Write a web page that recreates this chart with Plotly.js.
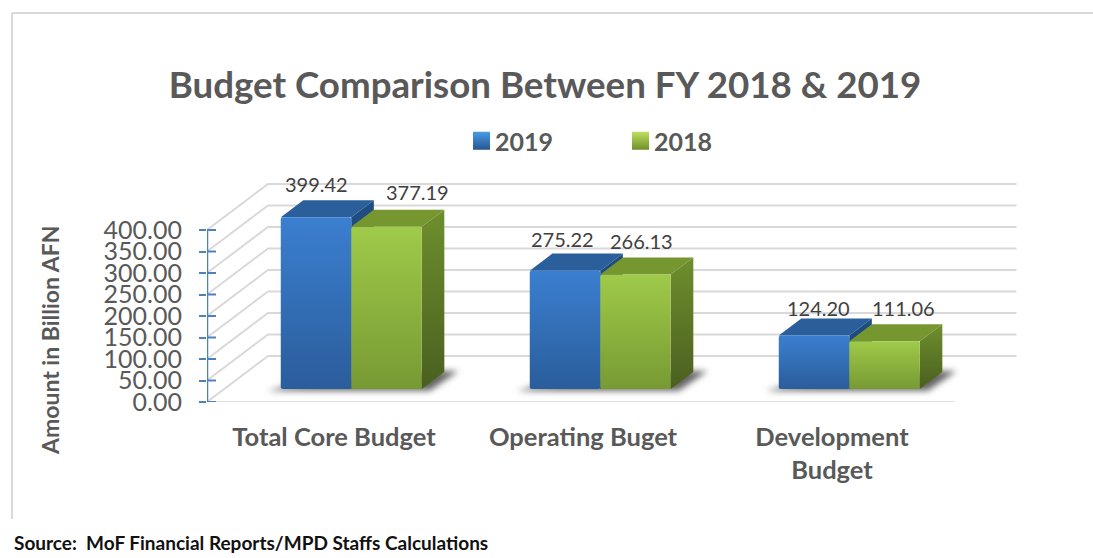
<!DOCTYPE html>
<html><head><meta charset="utf-8">
<script src="https://cdn.plot.ly/plotly-3.0.1.min.js"></script>
<style>html,body{margin:0;padding:0;background:#fff}#c{width:1093px;height:558px}</style>
</head><body><div id="c"></div>
<script>
// ---- data
const categories = ['Total Core Budget','Operating Buget','Development<br>Budget'];
const series2019 = [399.42,275.22,124.20];
const series2018 = [377.19,266.13,111.06];
const seriesNames = ['2019','2018'];
const tickValues = [0,50,100,150,200,250,300,350,400];
const labelShiftX = [[0,31],[-3,6],[4,19]];
const labelShiftY = [[33,35],[32,34],[28,33]];

// ---- geometry of the oblique projection
const W=1093,H=558;
const plot={l:207,r:1017,t:165,b:402};
const pxPerCat=249, pxPerVal=0.43, x0px=334;
const xRange=[(plot.l-x0px)/pxPerCat,(plot.r-x0px)/pxPerCat];
const yRange=[0,(plot.b-plot.t)/pxPerVal];
const wallDX=61/pxPerCat, wallDY=46/pxPerVal;
const frontD=0.283, depthD=0.37, barW=70.5/pxPerCat;
const baseY=frontD*wallDY, frontX=frontD*wallDX;
const floorEnd=(955-x0px)/pxPerCat;
const dx=depthD*wallDX, dy=depthD*wallDY;

const GRID='#d9d9d9', AXIS='#4f81bd';
const traces=[];
const gx=[],gy=[];
tickValues.forEach(v=>{gx.push(xRange[0],xRange[0]+wallDX,xRange[1]-0.002,null);gy.push(v,v+wallDY,v+wallDY,null);});
traces.push({type:'scatter',mode:'lines',x:gx,y:gy,line:{color:GRID,width:2},hoverinfo:'skip',showlegend:false,zorder:0,cliponaxis:false});
traces.push({type:'scatter',mode:'lines',x:[xRange[0],floorEnd],y:[-0.5,-0.5],line:{color:GRID,width:2},hoverinfo:'skip',showlegend:false,zorder:0,cliponaxis:false});
// y axis line and inner half of the ticks
const ix=[],iy=[];
tickValues.forEach(v=>{ix.push(xRange[0],xRange[0]+9/pxPerCat,null);iy.push(v,v,null);});
traces.push({type:'scatter',mode:'lines',x:ix,y:iy,line:{color:AXIS,width:2},hoverinfo:'skip',showlegend:false,zorder:1,cliponaxis:false});
traces.push({type:'scatter',mode:'lines',x:[xRange[0]+0.0001,xRange[0]],y:[tickValues[0],tickValues[tickValues.length-1]],line:{color:AXIS,width:2.5,simplify:false},hoverinfo:'skip',showlegend:false,zorder:1,cliponaxis:false});
categories.forEach((c,i)=>{
  const L=i+frontX-barW, R=i+frontX+barW;
  traces.push({type:'scatter',mode:'lines',fill:'toself',uid:'shadow'+i,
    x:[L-13/pxPerCat,R+8/pxPerCat,R+dx+14/pxPerCat,R+dx-4/pxPerCat,L+4/pxPerCat,L-13/pxPerCat],
    y:[baseY-4,baseY-4,baseY+dy+2,baseY+dy+2,baseY+6,baseY-4],
    line:{width:0},fillcolor:'rgba(50,50,50,0.75)',hoverinfo:'skip',showlegend:false,zorder:1,cliponaxis:false});
});
const styles=[
 {front:'rgb(50,110,190)',top:'#2b5f9c',side:'rgb(31,78,130)',vals:series2019,sign:-1},
 {front:'rgb(140,180,62)',top:'#76962f',side:'rgb(100,130,42)',vals:series2018,sign:1}];
styles.forEach((s,k)=>{
  const z=2+k*2;
  s.vals.forEach((v,i)=>{
    const L=i+frontX+(s.sign<0?-barW:0), R=L+barW, T=baseY+v;
    traces.push({type:'scatter',mode:'lines',fill:'toself',x:[L,L+dx,R+dx,R,L],y:[T,T+dy,T+dy,T,T],
      line:{width:0},fillcolor:s.top,hoverinfo:'skip',showlegend:false,zorder:z});
    traces.push({type:'scatter',mode:'lines',fill:'toself',uid:'side'+k+i,x:[R,R+dx,R+dx,R,R],y:[T,T+dy,baseY+dy,baseY,T],
      line:{width:0},fillcolor:s.side,hoverinfo:'skip',showlegend:false,zorder:z});
  });
  traces.push({type:'bar',name:seriesNames[k],x:s.vals.map((v,i)=>i+frontX+s.sign*barW/2),y:s.vals,base:s.vals.map(()=>baseY),
    width:barW,marker:{color:s.front,line:{width:0},cornerradius:2},hoverinfo:'y',zorder:z+1,cliponaxis:false});
});

const FONT='Lato,"Liberation Sans",Arial,sans-serif';
const annotations=[];
styles.forEach((s,k)=>s.vals.forEach((v,i)=>{
  annotations.push({xref:'x',yref:'y',x:i+frontX+s.sign*barW/2,y:baseY+v,text:v.toFixed(2),showarrow:false,
    xshift:labelShiftX[i][k],yshift:labelShiftY[i][k],xanchor:'center',yanchor:'middle',font:{family:FONT,size:20,color:'#404040'}});
}));
annotations.push({xref:'paper',yref:'paper',x:(50-plot.l)/(plot.r-plot.l),y:(plot.b-340)/(plot.b-plot.t),text:'<b>Amount in Billion AFN</b>',textangle:-90,
  showarrow:false,xanchor:'center',yanchor:'middle',font:{family:FONT,size:23,color:'#595959'}});
annotations.push({xref:'paper',yref:'paper',x:(12-plot.l)/(plot.r-plot.l),y:(plot.b-542)/(plot.b-plot.t),text:'<b>Source:  MoF Financial Reports/MPD Staffs Calculations</b>',
  showarrow:false,xanchor:'left',yanchor:'middle',font:{family:FONT,size:19,color:'#111111'}});

const layout={
  width:W,height:H,autosize:false,paper_bgcolor:'#fff',plot_bgcolor:'rgba(0,0,0,0)',
  margin:{l:plot.l,r:W-plot.r,t:plot.t,b:H-plot.b,pad:0},
  barmode:'overlay',
  title:{text:'<b>Budget Comparison Between FY 2018 &amp; 2019</b>',x:545/W,xanchor:'center',y:1-85/H,yanchor:'middle',font:{family:FONT,size:36.7,color:'#595959'}},
  xaxis:{range:xRange,tickmode:'array',tickvals:categories.map((c,i)=>i),ticktext:categories.map(c=>'<b>'+c+'</b>'),
    showgrid:false,zeroline:false,showline:false,ticks:'',ticklabelstandoff:17,tickfont:{family:FONT,size:25.5,color:'#595959'},tickangle:0},
  yaxis:{range:yRange,tickmode:'array',tickvals:tickValues,ticktext:tickValues.map(v=>v.toFixed(2)),showgrid:false,zeroline:false,showline:false,
    ticks:'outside',ticklen:7,tickwidth:2,tickcolor:AXIS,ticklabelstandoff:12,tickfont:{family:FONT,size:25,color:'#595959'}},
  legend:{orientation:'h',x:(455-plot.l)/(plot.r-plot.l),y:1+(plot.t-141)/(plot.b-plot.t),xanchor:'left',yanchor:'middle',traceorder:'normal',entrywidth:114,entrywidthmode:'pixels',
    font:{family:FONT,size:25,color:'#595959',weight:'bold'},bgcolor:'rgba(0,0,0,0)'},
  annotations:annotations,
  shapes:[
    {type:'line',xref:'paper',yref:'paper',x0:(12-plot.l)/(plot.r-plot.l),x1:(12-plot.l)/(plot.r-plot.l),y0:(plot.b-13)/(plot.b-plot.t),y1:(plot.b-519)/(plot.b-plot.t),line:{color:GRID,width:2}},
    {type:'line',xref:'paper',yref:'paper',x0:(12-plot.l)/(plot.r-plot.l),x1:(W-plot.l)/(plot.r-plot.l),y0:(plot.b-13)/(plot.b-plot.t),y1:(plot.b-13)/(plot.b-plot.t),line:{color:GRID,width:2}}
  ]
};
Plotly.newPlot('c',traces,layout,{displayModeBar:false,staticPlot:true}).then(gd=>{
  const svg=gd.querySelector('svg.main-svg');
  const defs=svg.querySelector('defs')||svg.insertBefore(document.createElementNS('http://www.w3.org/2000/svg','defs'),svg.firstChild);
  const grad=(id,a,b)=>{const g=document.createElementNS('http://www.w3.org/2000/svg','linearGradient');g.id=id;g.setAttribute('x1','0');g.setAttribute('y1','0');g.setAttribute('x2','0');g.setAttribute('y2','1');
    [[0,a],[1,b]].forEach(([o,c])=>{const s=document.createElementNS('http://www.w3.org/2000/svg','stop');s.setAttribute('offset',o);s.setAttribute('stop-color',c);g.appendChild(s);});defs.appendChild(g);};
  grad('fb','#3b7fd0','#2a5d9b');grad('fg','#9fca49','#779a33');grad('sb','#1f4e82','#1a3f6c');grad('sg','#6e8f2d','#4a5f20');
  grad('lb','#4a9be8','#27568f');grad('lg','#c0e060','#6f8f2c');
  gd.querySelectorAll('.point path').forEach(p=>{if(p.closest('.legend'))return;const f=p.style.fill;p.style.fill=f.includes('50, 110')?'url(#fb)':'url(#fg)';});
  [0,1].forEach(k=>[0,1,2].forEach(i=>{const t=gd.querySelector('.traceside'+k+i+' .js-fill');if(t)t.style.fill=k?'url(#sg)':'url(#sb)';}));
  [0,1,2].forEach(i=>{const t=gd.querySelector('.traceshadow'+i+' .js-fill');if(t)t.style.filter='blur(3px)';});
  gd.querySelectorAll('.legend .legendpoints path').forEach((p,n)=>{
    p.setAttribute('d','M-8.5,-9H8.5V9H-8.5Z');
    p.setAttribute('transform','translate(26.5,0)');
    p.style.fill=n?'url(#lg)':'url(#lb)';
  });
});
</script></body></html>
